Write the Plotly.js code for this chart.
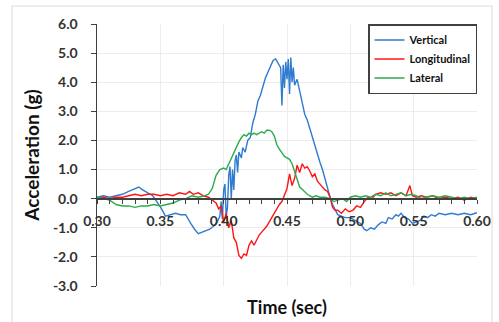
<!DOCTYPE html>
<html>
<head>
<meta charset="utf-8">
<script src="https://cdn.plot.ly/plotly-3.0.1.min.js"></script>
<style>html,body{margin:0;padding:0;background:#fff;}#chart{width:499px;height:322px;}</style>
</head>
<body>
<div id="chart"></div>
<script>
// Vertical (blue)
const vertT = [0.300,0.305,0.310,0.315,0.320,0.325,0.330,0.333,0.336,0.340,0.344,0.348,0.351,0.354,0.358,0.362,0.366,0.370,0.374,0.377,0.380,0.383,0.386,0.389,0.392,0.395,0.397,0.398,0.399,0.400,0.401,0.402,0.403,0.404,0.405,0.406,0.407,0.408,0.409,0.410,0.411,0.412,0.414,0.415,0.417,0.419,0.421,0.423,0.425,0.427,0.429,0.431,0.433,0.435,0.437,0.439,0.441,0.443,0.445,0.446,0.447,0.448,0.449,0.450,0.451,0.452,0.453,0.454,0.455,0.456,0.458,0.460,0.462,0.464,0.466,0.468,0.470,0.472,0.474,0.476,0.478,0.480,0.482,0.484,0.486,0.488,0.490,0.493,0.496,0.500,0.504,0.508,0.511,0.513,0.516,0.519,0.522,0.525,0.528,0.530,0.533,0.536,0.538,0.540,0.543,0.546,0.549,0.552,0.555,0.558,0.561,0.564,0.567,0.570,0.575,0.580,0.585,0.590,0.595,0.600];
const vertV = [0.05,0.10,0.05,0.10,0.15,0.25,0.35,0.40,0.30,0.20,0.10,-0.15,-0.35,-0.60,-0.55,-0.50,-0.55,-0.55,-0.85,-1.05,-1.20,-1.15,-1.10,-1.05,-0.95,-0.80,-0.60,-0.10,-0.70,0.30,0.50,-0.60,-0.30,0.80,1.10,0.00,1.00,0.30,1.30,1.50,0.90,1.60,1.40,1.75,1.60,2.00,2.10,2.60,2.90,3.35,3.55,3.85,4.15,4.35,4.55,4.75,4.80,4.65,4.50,3.20,4.60,3.80,4.70,4.10,4.80,3.60,4.85,4.00,4.50,3.90,4.10,3.70,3.30,2.90,2.70,2.40,2.10,1.80,1.50,1.25,1.00,0.65,0.35,0.05,-0.20,-0.40,-0.55,-0.60,-0.65,-0.65,-0.75,-0.85,-1.05,-1.10,-1.00,-1.05,-0.90,-0.80,-0.85,-0.65,-0.70,-0.55,-0.60,-0.50,-0.65,-0.70,-0.85,-0.80,-0.75,-0.60,-0.65,-0.55,-0.60,-0.50,-0.55,-0.50,-0.55,-0.50,-0.55,-0.48];

// Longitudinal (red)
const longT = [0.300,0.305,0.310,0.315,0.320,0.325,0.330,0.335,0.340,0.345,0.350,0.355,0.360,0.365,0.370,0.373,0.376,0.380,0.384,0.388,0.391,0.394,0.396,0.398,0.400,0.402,0.404,0.406,0.408,0.410,0.412,0.414,0.416,0.418,0.420,0.422,0.424,0.426,0.428,0.430,0.432,0.434,0.436,0.438,0.440,0.442,0.444,0.446,0.448,0.450,0.452,0.454,0.456,0.458,0.460,0.462,0.464,0.466,0.468,0.470,0.472,0.474,0.476,0.478,0.480,0.482,0.484,0.486,0.488,0.490,0.493,0.496,0.499,0.502,0.505,0.508,0.511,0.514,0.517,0.520,0.524,0.528,0.532,0.536,0.540,0.544,0.547,0.549,0.552,0.556,0.560,0.565,0.570,0.575,0.580,0.585,0.590,0.595,0.600];
const longV = [0.00,0.05,0.00,0.05,0.05,0.10,0.15,0.10,0.15,0.15,0.10,0.15,0.10,0.20,0.15,0.25,0.15,0.20,0.10,0.05,-0.05,-0.15,-0.35,-0.25,-0.80,-0.50,-1.00,-0.75,-1.35,-1.50,-1.95,-2.05,-1.90,-1.95,-1.60,-1.45,-1.60,-1.40,-1.25,-1.15,-1.05,-0.95,-0.80,-0.65,-0.45,-0.35,-0.20,-0.10,0.10,0.35,0.85,0.45,0.70,1.15,0.90,1.20,1.05,1.10,0.95,0.75,0.85,0.60,0.50,0.40,0.30,0.25,0.05,-0.30,-0.40,-0.40,-0.50,-0.35,-0.45,-0.40,-0.25,-0.30,-0.10,0.05,0.00,0.15,0.20,0.15,0.20,0.10,0.20,0.10,0.45,0.10,0.05,0.10,0.05,0.10,0.00,0.05,0.00,0.05,-0.05,0.05,0.00];

// Lateral (green)
const latT = [0.300,0.305,0.310,0.315,0.320,0.325,0.330,0.335,0.340,0.345,0.350,0.355,0.360,0.365,0.370,0.375,0.380,0.385,0.388,0.391,0.394,0.397,0.400,0.402,0.404,0.406,0.408,0.410,0.412,0.414,0.416,0.418,0.420,0.422,0.424,0.426,0.428,0.430,0.432,0.434,0.436,0.438,0.440,0.442,0.444,0.446,0.448,0.450,0.452,0.454,0.456,0.458,0.460,0.463,0.466,0.470,0.473,0.476,0.480,0.484,0.487,0.490,0.494,0.497,0.500,0.504,0.508,0.512,0.516,0.520,0.524,0.528,0.532,0.536,0.540,0.544,0.548,0.552,0.556,0.560,0.565,0.570,0.575,0.580,0.585,0.590,0.595,0.600];
const latV = [0.05,0.00,-0.05,-0.20,-0.25,-0.25,-0.30,-0.25,-0.25,-0.20,-0.25,-0.20,-0.15,-0.05,0.00,0.10,0.05,0.10,0.15,0.35,0.80,1.00,1.05,1.00,1.20,1.40,1.60,1.80,1.95,2.10,2.20,2.15,2.25,2.20,2.25,2.20,2.25,2.30,2.25,2.35,2.35,2.30,2.15,1.85,1.70,1.55,1.45,1.40,1.35,1.20,0.95,0.65,0.40,0.28,0.15,0.05,0.10,0.05,0.05,0.00,-0.10,-0.05,0.00,-0.10,0.05,0.10,0.05,0.10,0.05,0.15,0.10,0.20,0.10,0.15,0.20,0.10,0.15,0.10,0.00,0.05,0.10,0.05,0.10,0.05,0.00,0.05,0.00,0.05];

const seriesNames = ["Vertical","Longitudinal","Lateral"];
const xTickVals = [0.30,0.35,0.40,0.45,0.50,0.55,0.60];
const xTickText = ["0.30","0.35","0.40","0.45","0.50","0.55","0.60"];
const yTickVals = [-3,-2,-1,0,1,2,3,4,5,6];
const yTickText = ["-3.0","-2.0","-1.0","0.0","1.0","2.0","3.0","4.0","5.0","6.0"];

const FONT = "Lato, 'Open Sans', sans-serif";
const traces = [
  {x: vertT, y: vertV, name: seriesNames[0], type: 'scatter', mode: 'lines', line: {color: '#2E7BCF', width: 1.4}},
  {x: longT, y: longV, name: seriesNames[1], type: 'scatter', mode: 'lines', line: {color: '#FF1414', width: 1.4}},
  {x: latT, y: latV, name: seriesNames[2], type: 'scatter', mode: 'lines', line: {color: '#2DAA4E', width: 1.4}}
];

const layout = {
  width: 499, height: 322,
  margin: {l: 97, r: 22, t: 24, b: 36},
  paper_bgcolor: '#fff', plot_bgcolor: '#fff',
  font: {family: FONT, color: '#404040'},
  showlegend: true,
  legend: {
    x: 1.0, xanchor: 'right', y: 1.0, yanchor: 'top',
    bgcolor: '#fff', bordercolor: '#404040', borderwidth: 1.5,
    font: {family: FONT, size: 11, color: '#111', weight: 'bold'},
    itemwidth: 30, tracegroupgap: 0
  },
  xaxis: {
    range: [0.30, 0.60], anchor: 'free', position: 88/262,
    tickvals: xTickVals, ticktext: xTickText,
    ticks: 'outside', ticklen: 4, tickcolor: '#404040', tickwidth: 1,
    minor: {dtick: 0.01, tick0: 0.30, ticks: 'outside', ticklen: 4, tickcolor: '#404040', showgrid: false},
    showline: true, linecolor: '#404040', linewidth: 1.5,
    showgrid: true, gridcolor: '#ececec', gridwidth: 1,
    zeroline: false,
    tickfont: {family: FONT, size: 14, color: '#333', weight: 'bold'},
    ticklabelstandoff: 6,
    title: {text: 'Time (sec)', font: {family: FONT, size: 18, color: '#111', weight: 'bold'}, standoff: 73}
  },
  yaxis: {
    range: [-3, 6],
    tickvals: yTickVals, ticktext: yTickText,
    ticks: 'outside', ticklen: 5, tickcolor: '#404040',
    showline: true, linecolor: '#404040', linewidth: 1.5,
    showgrid: true, gridcolor: '#ececec', gridwidth: 1,
    zeroline: false,
    tickfont: {family: FONT, size: 14, color: '#333', weight: 'bold'},
    ticklabelstandoff: 10,
    title: {text: 'Acceleration (g)', font: {family: FONT, size: 19, color: '#111', weight: 'bold'}, standoff: 8}
  },
  shapes: [
    {type: 'rect', xref: 'paper', yref: 'paper', x0: (12-97)/380, x1: (492-97)/380, y0: (286-335)/262, y1: (286-6)/262,
     line: {color: '#dcdcdc', width: 1}, fillcolor: 'rgba(0,0,0,0)', layer: 'below'}
  ]
};

Plotly.newPlot('chart', traces, layout, {displayModeBar: false, staticPlot: true});
</script>
</body>
</html>
